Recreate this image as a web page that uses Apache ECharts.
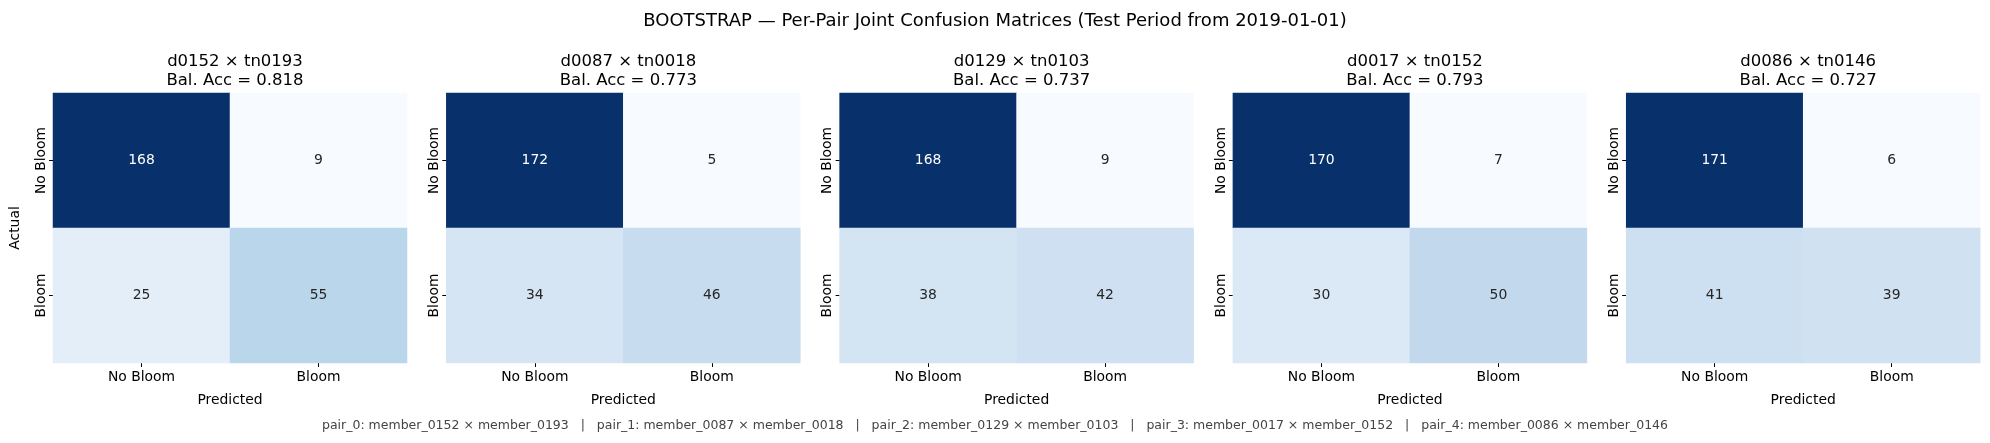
<!DOCTYPE html>
<html>
<head>
<meta charset="utf-8">
<script src="https://cdn.jsdelivr.net/npm/echarts@6/dist/echarts.min.js"></script>
<style>
  html, body { margin: 0; padding: 0; background: #fff; }
  #chart { width: 1990px; height: 443px; }
</style>
</head>
<body>
<div id="chart"></div>
<script>
  // data
  var pairTitles = ['d0152 × tn0193', 'd0087 × tn0018', 'd0129 × tn0103', 'd0017 × tn0152', 'd0086 × tn0146'];
  var balAcc = ['0.818', '0.773', '0.737', '0.793', '0.727'];
  var pairMembers = [
    'member_0152 × member_0193',
    'member_0087 × member_0018',
    'member_0129 × member_0103',
    'member_0017 × member_0152',
    'member_0086 × member_0146'
  ];
  var labels = ['No Bloom', 'Bloom'];
  // actual / predicted
  var noBloomNoBloom = [168, 172, 168, 170, 171];
  var noBloomBloom = [9, 5, 9, 7, 6];
  var bloomNoBloom = [25, 34, 38, 30, 41];
  var bloomBloom = [55, 46, 42, 50, 39];

  var blues = ['#f7fbff', '#deebf7', '#c6dbef', '#9ecae1', '#6baed6', '#4292c6', '#2171b5', '#08519c', '#08306b'];
  var font = 'DejaVu Sans';

  var chart = echarts.init(document.getElementById('chart'));

  var grids = [], xAxes = [], yAxes = [], series = [], visualMaps = [], titles = [];

  titles.push({
    text: 'BOOTSTRAP — Per-Pair Joint Confusion Matrices (Test Period from 2019-01-01)',
    left: 'center', top: 7,
    textStyle: { fontFamily: font, fontSize: 18, fontWeight: 'normal', color: '#000' }
  });

  for (var i = 0; i < 5; i++) {
    var left = 53 + i * 393.3;
    var w = 354;
    grids.push({ left: left, top: 93, width: w, height: 270 });
    titles.push({
      text: pairTitles[i] + '\nBal. Acc = ' + balAcc[i],
      left: left + w / 2, top: 47, textAlign: 'center',
      textStyle: { fontFamily: font, fontSize: 16.5, fontWeight: 'normal', color: '#000', lineHeight: 19 }
    });
    xAxes.push({
      type: 'category', gridIndex: i, data: labels,
      name: 'Predicted', nameLocation: 'middle', nameGap: 30,
      nameTextStyle: { fontFamily: font, fontSize: 13.9, color: '#000' },
      axisLine: { show: false },
      axisTick: { show: true, alignWithLabel: true, length: 4, lineStyle: { color: '#000', width: 1 } },
      axisLabel: { fontFamily: font, fontSize: 13.9, color: '#000', margin: 7 },
      splitLine: { show: false }
    });
    yAxes.push({
      type: 'category', gridIndex: i, data: labels, inverse: true,
      name: i === 0 ? 'Actual' : '', nameLocation: 'middle', nameGap: 31,
      nameTextStyle: { fontFamily: font, fontSize: 13.9, color: '#000' },
      axisLine: { show: false },
      axisTick: { show: true, alignWithLabel: true, length: 4, lineStyle: { color: '#000', width: 1 } },
      axisLabel: { fontFamily: font, fontSize: 13.9, color: '#000', rotate: 90, margin: 5 },
      splitLine: { show: false }
    });
    var vals = [
      [0, 0, noBloomNoBloom[i]],
      [1, 0, noBloomBloom[i]],
      [0, 1, bloomNoBloom[i]],
      [1, 1, bloomBloom[i]]
    ];
    var mn = Math.min.apply(null, vals.map(function (d) { return d[2]; }));
    var mx = Math.max.apply(null, vals.map(function (d) { return d[2]; }));
    visualMaps.push({
      show: false, seriesIndex: i, min: mn, max: mx, dimension: 2,
      inRange: { color: blues }
    });
    series.push({
      type: 'heatmap', xAxisIndex: i, yAxisIndex: i,
      data: vals.map(function (d) {
        var t = (d[2] - mn) / (mx - mn);
        return {
          value: d,
          label: { color: t > 0.6 ? '#ffffff' : '#262626' }
        };
      }),
      label: { show: true, fontFamily: font, fontSize: 13.9 },
      emphasis: { disabled: true },
      itemStyle: { borderWidth: 0 }
    });
  }

  chart.setOption({
    backgroundColor: '#fff',
    animation: false,
    title: titles,
    grid: grids,
    xAxis: xAxes,
    yAxis: yAxes,
    visualMap: visualMaps,
    series: series,
    graphic: [{
      type: 'text', left: 'center', top: 419,
      style: {
        text: pairMembers.map(function (m, k) { return 'pair_' + k + ': ' + m; }).join('   |   '),
        fontFamily: font, fontSize: 12.5, fill: '#444'
      }
    }]
  });
</script>
</body>
</html>
